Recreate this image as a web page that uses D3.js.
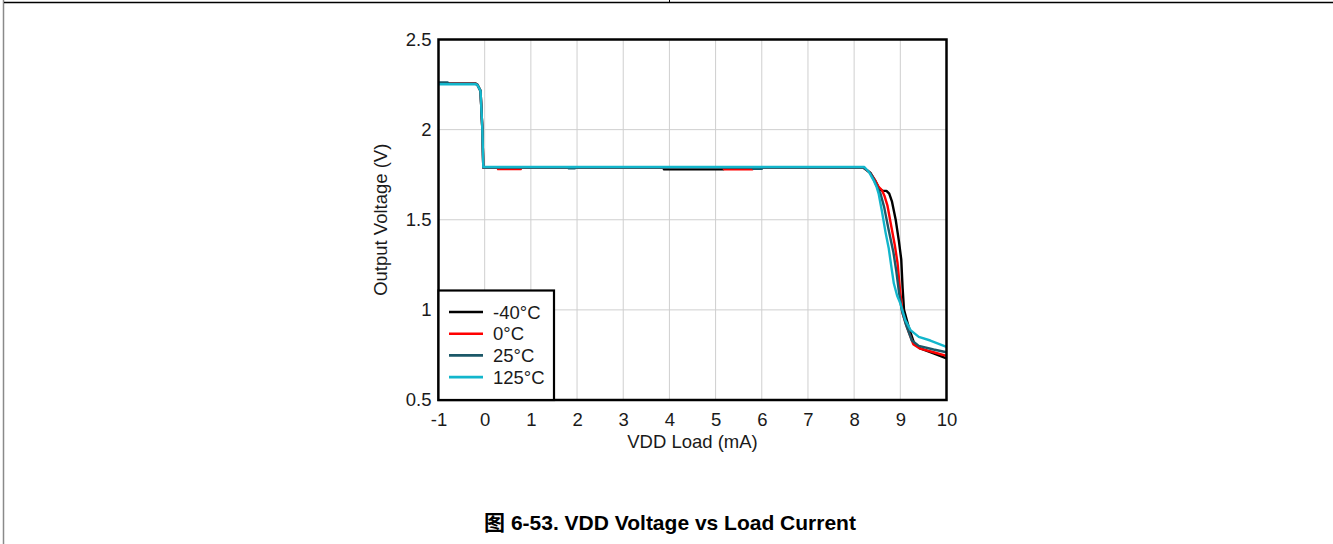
<!DOCTYPE html>
<html>
<head>
<meta charset="utf-8">
<script src="https://cdn.jsdelivr.net/npm/d3@7"></script>
<style>
  html, body { margin: 0; padding: 0; background: #fff; }
  svg { display: block; }
  text { font-family: "Liberation Sans", Arial, "Noto Sans CJK SC", sans-serif; }
</style>
</head>
<body>
<svg id="chart" width="1333" height="544"></svg>
<script>
// Output voltage vs VDD load, one series per temperature
const seriesNames = ["-40°C", "0°C", "25°C", "125°C"];
const seriesColors = ["#000000", "#ff0000", "#1c5868", "#12b6cc"];

const loadM40 = [-1, -0.2, -0.16, -0.09, -0.05, -0.03, 0, 3.87, 3.88, 5.17, 5.19, 8.2, 8.35, 8.45, 8.55, 8.62, 8.7, 8.76, 8.82, 8.9, 8.97, 9.02, 9.05, 9.08, 9.18, 9.3, 9.43, 9.72, 10];
const voltM40 = [2.255, 2.255, 2.25, 2.215, 2.0, 1.79, 1.79, 1.79, 1.78, 1.78, 1.79, 1.79, 1.76, 1.72, 1.67, 1.66, 1.66, 1.645, 1.6, 1.5, 1.38, 1.28, 1.12, 1.0, 0.906, 0.814, 0.786, 0.759, 0.731];

const load0 = [-1, -0.2, -0.16, -0.09, -0.05, -0.03, 0, 0.28, 0.29, 0.78, 0.8, 5.17, 5.18, 5.8, 5.82, 8.2, 8.35, 8.45, 8.52, 8.6, 8.66, 8.72, 8.8, 8.88, 8.94, 8.99, 9.05, 9.15, 9.28, 9.43, 9.72, 10];
const volt0 = [2.255, 2.255, 2.25, 2.215, 2.0, 1.79, 1.79, 1.79, 1.781, 1.781, 1.79, 1.79, 1.78, 1.78, 1.79, 1.79, 1.76, 1.72, 1.685, 1.665, 1.63, 1.58, 1.47, 1.36, 1.26, 1.12, 0.98, 0.9, 0.81, 0.785, 0.765, 0.745];

const load25 = [-1, -0.8, -0.78, -0.2, -0.16, -0.09, -0.05, -0.03, 0, 1.8, 1.82, 1.95, 1.97, 5.8, 5.82, 6.0, 6.02, 8.2, 8.35, 8.45, 8.52, 8.57, 8.65, 8.75, 8.85, 8.91, 8.97, 9.03, 9.12, 9.25, 9.4, 9.72, 10];
const volt25 = [2.262, 2.262, 2.255, 2.255, 2.25, 2.215, 2.0, 1.79, 1.79, 1.79, 1.785, 1.785, 1.79, 1.79, 1.782, 1.782, 1.79, 1.79, 1.76, 1.71, 1.67, 1.645, 1.57, 1.44, 1.32, 1.22, 1.1, 1.0, 0.92, 0.83, 0.8, 0.78, 0.765];

const load125 = [-1, -0.2, -0.16, -0.09, -0.05, -0.03, 0, 8.22, 8.32, 8.42, 8.49, 8.53, 8.6, 8.68, 8.75, 8.8, 8.86, 8.93, 9.0, 9.11, 9.22, 9.4, 9.65, 10];
const volt125 = [2.252, 2.252, 2.248, 2.215, 2.0, 1.793, 1.793, 1.793, 1.765, 1.72, 1.68, 1.645, 1.55, 1.43, 1.34, 1.25, 1.146, 1.08, 1.036, 0.943, 0.888, 0.85, 0.83, 0.795];

const xTicks = [-1, 0, 1, 2, 3, 4, 5, 6, 7, 8, 9, 10];
const yTicks = [0.5, 1, 1.5, 2, 2.5];

const seriesLoads = [loadM40, load0, load25, load125];
const seriesVolts = [voltM40, volt0, volt25, volt125];

const FONT = 18.5;
const TEXT_FILL = "#1a1a1a";

const svg = d3.select("#chart");

// page frame
svg.append("line").attr("x1", 3.5).attr("x2", 3.5).attr("y1", 0).attr("y2", 544)
  .attr("stroke", "#8a8a8a").attr("stroke-width", 1.5);
svg.append("line").attr("x1", 4).attr("x2", 1333).attr("y1", 2.5).attr("y2", 2.5)
  .attr("stroke", "#000").attr("stroke-width", 1.5);
svg.append("line").attr("x1", 669.5).attr("x2", 669.5).attr("y1", 0).attr("y2", 3)
  .attr("stroke", "#000").attr("stroke-width", 1);

const plot = { left: 438.5, right: 946.5, top: 39.5, bottom: 400 };

const x = d3.scaleLinear().domain([-1, 10]).range([plot.left, plot.right]);
const y = d3.scaleLinear().domain([0.5, 2.5]).range([plot.bottom, plot.top]);

// grid
const grid = svg.append("g");
grid.selectAll("line.vx").data(xTicks.slice(1, -1)).join("line")
  .attr("x1", d => x(d)).attr("x2", d => x(d))
  .attr("y1", plot.top).attr("y2", plot.bottom)
  .attr("stroke", "#cfcfcf").attr("stroke-width", 1);
grid.selectAll("line.hy").data(yTicks.slice(1, -1)).join("line")
  .attr("y1", d => y(d)).attr("y2", d => y(d))
  .attr("x1", plot.left).attr("x2", plot.right)
  .attr("stroke", "#cfcfcf").attr("stroke-width", 1);

// axes (labels only; the frame is drawn separately)
const xAxis = svg.append("g").attr("transform", `translate(0,${plot.bottom})`)
  .call(d3.axisBottom(x).tickValues(xTicks).tickFormat(d => String(d)).tickSize(0).tickPadding(13));
const yAxis = svg.append("g").attr("transform", `translate(${plot.left},0)`)
  .call(d3.axisLeft(y).tickValues(yTicks).tickFormat(d => String(d)).tickSize(0).tickPadding(7));
[xAxis, yAxis].forEach(a => {
  a.select(".domain").remove();
  a.selectAll("text").attr("font-size", FONT).attr("fill", TEXT_FILL)
    .style("font-family", '"Liberation Sans", Arial, sans-serif');
});

// series
const line = d3.line().x(d => x(d[0])).y(d => y(d[1])).curve(d3.curveLinear);
seriesNames.forEach((name, i) => {
  const pts = seriesLoads[i].map((v, k) => [v, seriesVolts[i][k]]);
  svg.append("path").datum(pts)
    .attr("d", line)
    .attr("fill", "none")
    .attr("stroke", seriesColors[i])
    .attr("stroke-width", 2.4)
    .attr("stroke-linejoin", "round");
});

// plot frame
svg.append("rect")
  .attr("x", plot.left).attr("y", plot.top)
  .attr("width", plot.right - plot.left).attr("height", plot.bottom - plot.top)
  .attr("fill", "none").attr("stroke", "#000").attr("stroke-width", 2.5);

// legend
const lg = svg.append("g");
lg.append("rect").attr("x", plot.left).attr("y", 290.5)
  .attr("width", 115.5).attr("height", plot.bottom - 290.5)
  .attr("fill", "#fff").attr("stroke", "#000").attr("stroke-width", 2.2);
seriesNames.forEach((name, i) => {
  const yy = 312 + i * 21.7;
  lg.append("line").attr("x1", 449).attr("x2", 483).attr("y1", yy).attr("y2", yy)
    .attr("stroke", seriesColors[i]).attr("stroke-width", 2.6);
  lg.append("text").attr("x", 493).attr("y", yy + 6.5)
    .attr("font-size", FONT).attr("fill", TEXT_FILL).text(name);
});

// axis titles
svg.append("text").attr("x", x(4.5)).attr("y", 448)
  .attr("text-anchor", "middle").attr("font-size", FONT).attr("fill", TEXT_FILL)
  .text("VDD Load (mA)");
svg.append("text").attr("transform", `translate(387,${(plot.top + plot.bottom) / 2}) rotate(-90)`)
  .attr("text-anchor", "middle").attr("font-size", FONT).attr("fill", TEXT_FILL)
  .text("Output Voltage (V)");

// caption
svg.append("text").attr("x", 670).attr("y", 530)
  .attr("text-anchor", "middle").attr("font-size", 21).attr("font-weight", "bold")
  .attr("fill", "#000")
  .text("图 6-53. VDD Voltage vs Load Current");
</script>
</body>
</html>
